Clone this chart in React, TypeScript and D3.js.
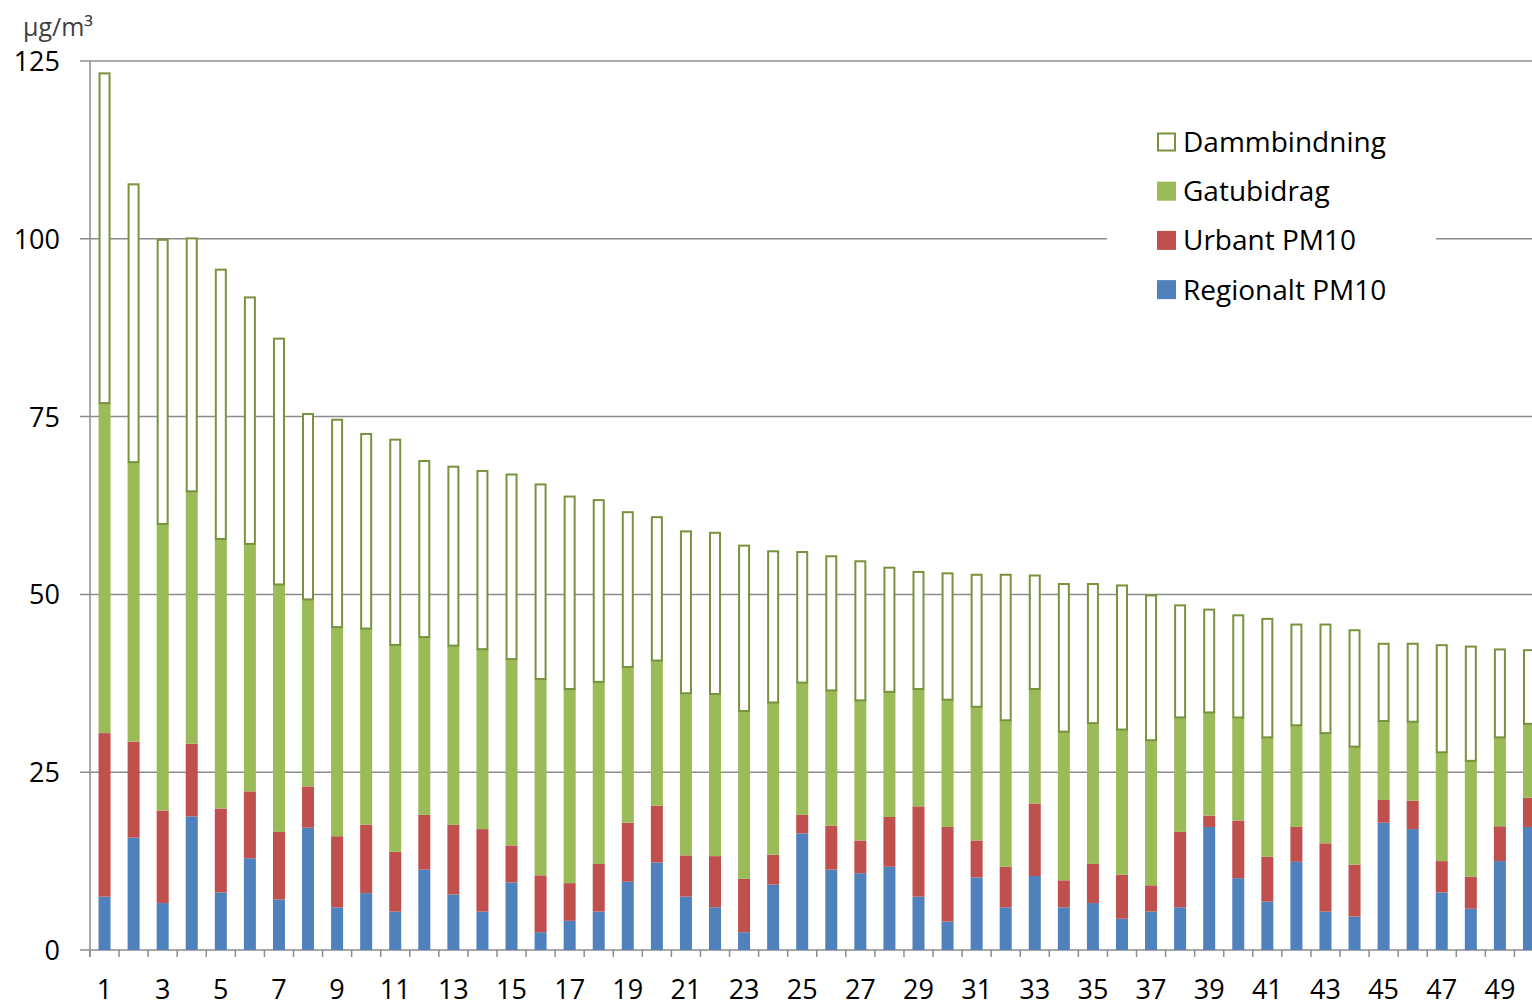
import React from 'react';
import * as d3 from 'd3';

const categories = [1, 2, 3, 4, 5, 6, 7, 8, 9, 10, 11, 12, 13, 14, 15, 16, 17, 18, 19, 20, 21, 22, 23, 24, 25, 26, 27, 28, 29, 30, 31, 32, 33, 34, 35, 36, 37, 38, 39, 40, 41, 42, 43, 44, 45, 46, 47, 48, 49, 50];

const regionalt = [7.5, 15.8, 6.6, 18.8, 8.1, 12.9, 7.1, 17.2, 6.0, 8.0, 5.4, 11.3, 7.8, 5.4, 9.5, 2.5, 4.1, 5.4, 9.6, 12.3, 7.5, 6.0, 2.5, 9.2, 16.4, 11.3, 10.8, 11.7, 7.5, 4.0, 10.2, 6.0, 10.4, 6.0, 6.6, 4.4, 5.4, 6.0, 17.3, 10.1, 6.8, 12.4, 5.4, 4.7, 17.9, 17.0, 8.1, 5.8, 12.5, 17.3];
const urbant = [23.0, 13.5, 13.0, 10.2, 11.8, 9.4, 9.5, 5.8, 10.0, 9.6, 8.4, 7.7, 9.8, 11.6, 5.2, 8.0, 5.3, 6.7, 8.3, 8.0, 5.8, 7.2, 7.5, 4.2, 2.6, 6.2, 4.6, 7.0, 12.7, 13.3, 5.2, 5.7, 10.2, 3.8, 5.5, 6.2, 3.7, 10.6, 1.6, 8.1, 6.3, 4.9, 9.6, 7.3, 3.2, 4.0, 4.4, 4.5, 4.9, 4.1];
const gatubidrag = [46.4, 39.3, 40.3, 35.5, 37.9, 34.8, 34.8, 26.3, 29.4, 27.6, 29.1, 25.0, 25.2, 25.3, 26.2, 27.6, 27.3, 25.6, 21.9, 20.4, 22.8, 22.8, 23.6, 21.4, 18.6, 19.0, 19.7, 17.6, 16.5, 17.9, 18.8, 20.6, 16.1, 20.9, 19.8, 20.4, 20.4, 16.1, 14.5, 14.5, 16.8, 14.3, 15.5, 16.6, 11.1, 11.1, 15.3, 16.3, 12.5, 10.4];
const dammbindning = [46.5, 39.2, 40.1, 35.7, 38.0, 34.8, 34.7, 26.2, 29.3, 27.5, 29.0, 24.9, 25.3, 25.2, 26.1, 27.5, 27.2, 25.7, 21.9, 20.3, 22.9, 22.8, 23.4, 21.4, 18.5, 19.0, 19.7, 17.6, 16.6, 17.9, 18.7, 20.6, 16.1, 20.9, 19.7, 20.4, 20.5, 15.9, 14.6, 14.5, 16.8, 14.3, 15.4, 16.5, 11.0, 11.1, 15.2, 16.2, 12.5, 10.5];

const yTicks = [0, 25, 50, 75, 100, 125];
const xTickLabels = [1, 3, 5, 7, 9, 11, 13, 15, 17, 19, 21, 23, 25, 27, 29, 31, 33, 35, 37, 39, 41, 43, 45, 47, 49];
const seriesKeys = ['reg', 'urb', 'gat', 'damm'];
const legendNames = ['Dammbindning', 'Gatubidrag', 'Urbant PM10', 'Regionalt PM10'];
const legendKeys = ['damm', 'gat', 'urb', 'reg'];
const unitLabel = 'µg/m³';

const colors: Record<string, string> = {
  reg: '#4F81BD',
  urb: '#C0504D',
  gat: '#9BBB59',
  damm: '#FFFFFF',
};
const outline = '#77933C';
const gridColor = '#8C8C8C';
const FONT = '"Open Sans", "DejaVu Sans", sans-serif';

export default function App() {
  const W = 1532;
  const H = 1007;
  const x = d3
    .scaleBand<number>()
    .domain(categories)
    .range([90, 1543.5])
    .paddingInner(0.587)
    .paddingOuter(0.2935);
  const y = d3.scaleLinear().domain([0, 125]).range([950, 61]);
  const step = x.step();
  const bw = x.bandwidth();

  const rows = categories.map((c, i) => ({
    cat: c,
    reg: regionalt[i],
    urb: urbant[i],
    gat: gatubidrag[i],
    damm: dammbindning[i],
  }));
  const stacked = d3.stack<any>().keys(seriesKeys)(rows);

  const boundaries = d3.range(categories.length + 1).map((i) => 90 + i * step);

  return (
    <svg
      width={W}
      height={H}
      style={{ position: 'absolute', left: 0, top: 0, background: '#fff', display: 'block' }}
      fontFamily={FONT}
    >
      <rect x={0} y={0} width={W} height={H} fill="#fff" />
      {/* gridlines */}
      {yTicks.map((t) => (
        <line key={'g' + t} x1={80} x2={W} y1={y(t)} y2={y(t)} stroke={gridColor} strokeWidth={1.5} />
      ))}
      {/* y axis line */}
      <line x1={90} x2={90} y1={y(125)} y2={957} stroke={gridColor} strokeWidth={1.5} />
      {/* x tick marks */}
      {boundaries.map((b, i) => (
        <line key={'xt' + i} x1={b} x2={b} y1={950} y2={957} stroke={gridColor} strokeWidth={1.5} />
      ))}
      {/* legend background */}
      <rect x={1107} y={112} width={329} height={205} fill="#fff" />
      {/* bars */}
      {stacked.map((s) => (
        <g key={s.key}>
          {s.map((d: any, i: number) => {
            const cat = categories[i];
            const x0 = x(cat) as number;
            const yTop = y(d[1]);
            const yBot = y(d[0]);
            if (s.key === 'damm') {
              return (
                <rect
                  key={i}
                  x={x0 + 1}
                  y={yTop + 1}
                  width={bw - 2}
                  height={Math.max(0, yBot - yTop - 1)}
                  fill="#fff"
                  stroke={outline}
                  strokeWidth={2}
                />
              );
            }
            return <rect key={i} x={x0} y={yTop} width={bw} height={yBot - yTop} fill={colors[s.key]} />;
          })}
        </g>
      ))}
      {/* y tick labels */}
      {yTicks.map((t) => (
        <text key={'yl' + t} x={60} y={y(t) + 10} textAnchor="end" fontSize={27} fill="#000">
          {t}
        </text>
      ))}
      {/* x tick labels */}
      {xTickLabels.map((c) => (
        <text key={'xl' + c} x={(x(c) as number) + bw / 2} y={999} textAnchor="middle" fontSize={27} fill="#000">
          {c}
        </text>
      ))}
      {/* unit */}
      <text x={23} y={36} fontSize={25} fill="#404040">
        {unitLabel}
      </text>
      {/* legend */}
      {legendKeys.map((k, i) => {
        const top = 132.5 + i * 49.2;
        return (
          <g key={'lg' + k}>
            {k === 'damm' ? (
              <rect x={1158} y={top + 1} width={17} height={17} fill="#fff" stroke={outline} strokeWidth={2} />
            ) : (
              <rect x={1157} y={top} width={19} height={19} fill={colors[k]} />
            )}
            <text x={1183} y={top + 19.5} fontSize={28} fill="#000">
              {legendNames[i]}
            </text>
          </g>
        );
      })}
    </svg>
  );
}
